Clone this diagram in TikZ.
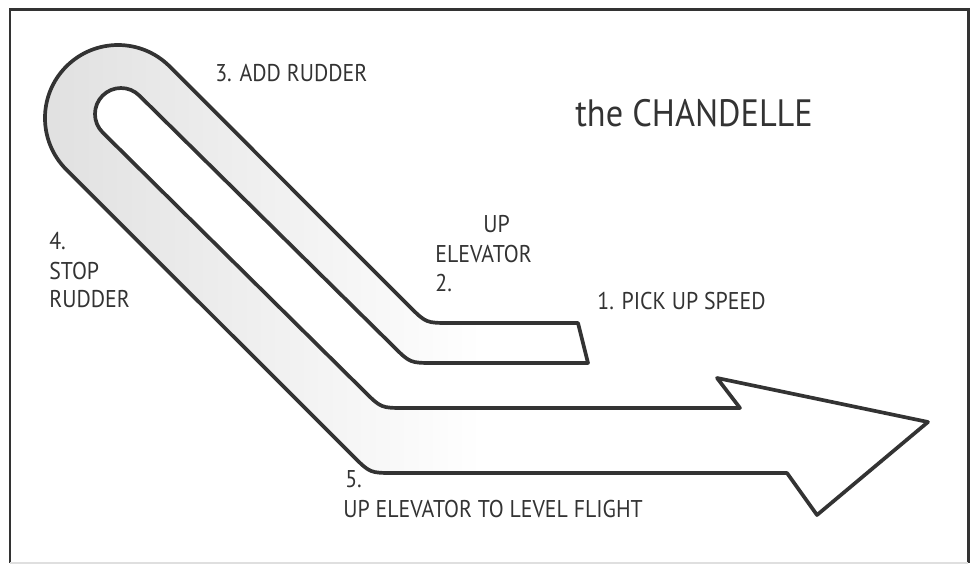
\documentclass[tikz,border=0pt]{standalone}
\usepackage{fontspec}
\setmainfont{PT Sans}[FakeStretch=0.9]
\usepackage{xcolor}
\usetikzlibrary{positioning}
\definecolor{inkgray}{HTML}{333333}
\definecolor{bandgray}{HTML}{E0E0E0}

\begin{document}
\begin{tikzpicture}[x=0.02cm,y=-0.02cm,font=\fontsize{13.8}{16}\selectfont]

\tikzset{
lbl/.style={
    anchor=base west,
    inner sep=0pt,
    text=inkgray
},
ttl/.style={
    lbl,
    font=\fontsize{21.7}{26}\selectfont
},
ribbon/.style={
    draw=inkgray,
    line width=2.1pt,
    line join=round,
    left color=bandgray,
    right color=white,
    middle color=white
},
frm/.style={draw=inkgray,line width=1.7pt}
}

\useasboundingbox (0,0) rectangle (976,573);

% frame
\draw[frm] (10,563) -- (10,10) -- (968,10) -- (968,563);
\draw[gray!25,line width=0.8pt] (10,563) -- (968,563);

% the flight path band
\path[ribbon] (578,323) -- (450,323) .. controls (426,323) .. (409,306)
  -- (169.6,66.4) arc[start angle=-45,end angle=-225,radius=73]
  -- (353,456) .. controls (370,473) .. (394,473)
  -- (787,473) -- (817,515) -- (928,422) -- (717,378) -- (740,408)
  -- (405,408) .. controls (381,408) .. (364,391)
  -- (102.6,132.4) arc[start angle=135,end angle=315,radius=26]
  -- (393,346) .. controls (410,363) .. (434,363)
  -- (588,363) -- cycle;

\node[ttl] (title) at (575,127) {the CHANDELLE};

\node[lbl] (addrud) at (215,82) {3. ADD RUDDER};
\node[lbl] (upel) at (483,233) {UP};
\node[lbl] (elev) at (435,263) {ELEVATOR};
\node[lbl] (two) at (435,292) {2.};
\node[lbl] (pick) at (597,310) {1. PICK UP SPEED};
\node[lbl] (four) at (49,250) {4.};
\node[lbl] (stop) at (49,280) {STOP};
\node[lbl] (stoprud) at (49,308) {RUDDER};
\node[lbl] (five) at (345,488) {5.};
\node[lbl] (level) at (343,518) {UP ELEVATOR TO LEVEL FLIGHT};

\end{tikzpicture}
\end{document}
